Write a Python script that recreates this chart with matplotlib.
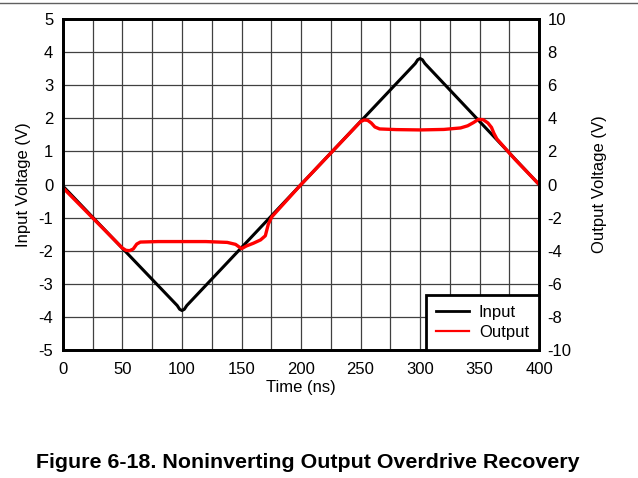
import numpy as np
import matplotlib.pyplot as plt
from matplotlib.lines import Line2D
from matplotlib.ticker import MultipleLocator

plt.rcParams['font.family'] = ['Liberation Sans', 'DejaVu Sans']
plt.rcParams['axes.unicode_minus'] = False

# Input triangle (left axis, V) with slightly rounded corners
t_in = [0, 96, 98, 100, 102, 104, 296, 298, 300, 302, 304, 400]
v_in = [-0.05, -3.66, -3.77, -3.81, -3.77, -3.66, 3.66, 3.77, 3.81, 3.77, 3.66, 0.0]

# Output (right axis, V), gain of 2 with clipping and recovery
t_out = [0, 50, 53, 56, 59, 62, 65, 80, 120, 138, 145, 150, 154, 160, 166, 170,
         172.5, 175.5, 200, 225, 250, 253, 256, 259, 262, 266, 280, 300, 320,
         334, 340, 345, 349, 353, 357, 360, 362, 364.5, 380, 400]
v_out = [-0.2, -3.85, -3.98, -4.0, -3.9, -3.6, -3.48, -3.45, -3.45, -3.5, -3.62,
         -3.88, -3.72, -3.55, -3.35, -3.1, -2.4, -1.95, 0.0, 1.9, 3.8, 3.9, 3.88,
         3.72, 3.48, 3.36, 3.32, 3.3, 3.33, 3.42, 3.55, 3.75, 3.94, 3.92, 3.72,
         3.45, 3.1, 2.76, 1.5, 0.0]

fig = plt.figure(figsize=(6.38, 4.78), dpi=100)
fig.subplots_adjust(left=0.0987, right=0.845, top=0.960, bottom=0.268)
ax = fig.add_subplot(111)
ax2 = ax.twinx()

ax.set_xlim(0, 400)
ax.set_ylim(-5, 5)
ax2.set_ylim(-10, 10)
ax.xaxis.set_major_locator(MultipleLocator(50))
ax.xaxis.set_minor_locator(MultipleLocator(25))
ax.yaxis.set_major_locator(MultipleLocator(1))
ax2.yaxis.set_major_locator(MultipleLocator(2))

ax.grid(True, which='both', axis='x', color='#404040', lw=0.9)
ax.grid(True, which='major', axis='y', color='#404040', lw=0.9)
ax.set_axisbelow(True)

ax.tick_params(which='both', length=0, labelsize=12)
ax.tick_params(axis='x', pad=9)
ax.tick_params(axis='y', pad=7)
ax2.tick_params(length=0, labelsize=12, pad=6)

for a in (ax, ax2):
    for s in a.spines.values():
        s.set_linewidth(2)
        s.set_color('black')

ax.plot(t_in, v_in, color='black', lw=2.2)
ax2.plot(t_out, v_out, color='#ff0000', lw=2.4)

ax.set_xlabel('Time (ns)', fontsize=12, labelpad=2)
ax.set_ylabel('Input Voltage (V)', fontsize=12, labelpad=5)
ax2.set_ylabel('Output Voltage (V)', fontsize=12, labelpad=14.5)

handles = [Line2D([], [], color='black', lw=2.0), Line2D([], [], color='#ff0000', lw=1.6)]
leg = ax2.legend(handles, ['Input', 'Output'], loc='lower right', borderaxespad=0,
                 fancybox=False, edgecolor='black', framealpha=1, fontsize=12,
                 handlelength=2.0, handletextpad=0.6, labelspacing=0.3,
                 borderpad=0.6)
leg.get_frame().set_linewidth(2)

fig.add_artist(Line2D([0, 1], [1 - 2.5 / 478, 1 - 2.5 / 478], color='#606060', lw=1))
fig.text(307.5 / 638, 1 - 462 / 478, 'Figure 6-18. Noninverting Output Overdrive Recovery',
         ha='center', va='center', fontsize=15.4, fontweight='bold')

fig.savefig('out.png', dpi=100)
